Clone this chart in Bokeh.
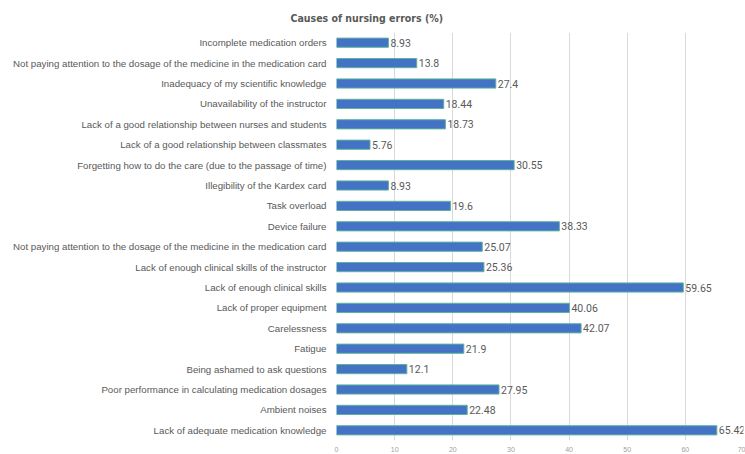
from bokeh.plotting import figure
from bokeh.models import ColumnDataSource, FixedTicker, LabelSet
from bokeh.core.properties import value
from bokeh.embed import file_html
from bokeh.resources import INLINE

# Top-to-bottom order as in the reference
causes = [
    "Incomplete medication orders",
    "Not paying attention to the dosage of the medicine in the medication card",
    "Inadequacy of my scientific knowledge",
    "Unavailability of the instructor",
    "Lack of a good relationship between nurses and students",
    "Lack of a good relationship between classmates",
    "Forgetting how to do the care (due to the passage of time)",
    "Illegibility of the Kardex card",
    "Task overload",
    "Device failure",
    "Not paying attention to the dosage of the medicine in the medication card",
    "Lack of enough clinical skills of the instructor",
    "Lack of enough clinical skills",
    "Lack of proper equipment",
    "Carelessness",
    "Fatigue",
    "Being ashamed to ask questions",
    "Poor performance in calculating medication dosages",
    "Ambient noises",
    "Lack of adequate medication knowledge",
]
percent = [8.93, 13.8, 27.4, 18.44, 18.73, 5.76, 30.55, 8.93, 19.6, 38.33,
           25.07, 25.36, 59.65, 40.06, 42.07, 21.9, 12.1, 27.95, 22.48, 65.42]
value_labels = ["8.93", "13.8", "27.4", "18.44", "18.73", "5.76", "30.55", "8.93",
                "19.6", "38.33", "25.07", "25.36", "59.65", "40.06", "42.07", "21.9",
                "12.1", "27.95", "22.48", "65.42"]
x_ticks = [0, 10, 20, 30, 40, 50, 60, 70]

n = len(causes)
pos = [n - 1 - i for i in range(n)]

src = ColumnDataSource(dict(y=pos, v=percent, t=value_labels))

p = figure(width=745, height=454, output_backend="svg", toolbar_location=None,
           x_range=(0, 70), y_range=(-0.5, n - 0.5),
           title="Causes of nursing errors (%)",
           min_border_left=336, min_border_right=2, min_border_bottom=0)

p.hbar(y="y", right="v", left=0, height=0.45, source=src,
       fill_color="#4472C4", line_color="#5ab4a0", line_width=1)

lbl = LabelSet(x="v", y="y", text="t", source=src, x_offset=2, y_offset=0,
               text_baseline="middle", text_font_size="10.5px",
               text_color="#595959", text_font=value("Roboto"))
p.add_layout(lbl)

p.title.text_font = "DejaVu Sans Condensed"
p.title.text_font_size = "10.5px"
p.title.text_font_style = "bold"
p.title.text_color = "#595959"
p.title.align = "left"
p.title.offset = -46
p.title.standoff = 18

p.yaxis.ticker = FixedTicker(ticks=pos)
p.yaxis.major_label_overrides = {pp: c for pp, c in zip(pos, causes)}
p.yaxis.major_label_text_font = "Liberation Sans"
p.yaxis.major_label_text_font_size = "9.7px"
p.yaxis.major_label_text_color = "#595959"
p.yaxis.axis_line_color = None
p.yaxis.major_tick_line_color = None
p.yaxis.minor_tick_line_color = None
p.yaxis.major_label_standoff = 4

p.xaxis.ticker = FixedTicker(ticks=x_ticks)
p.xaxis.major_label_text_font_size = "7px"
p.xaxis.major_label_text_color = "#a0a0a0"
p.xaxis.axis_line_color = None
p.xaxis.major_tick_line_color = None
p.xaxis.minor_tick_line_color = None
p.xaxis.major_tick_out = 0
p.xaxis.major_tick_in = 0
p.xaxis.major_label_standoff = 6

p.xgrid.ticker = FixedTicker(ticks=x_ticks)
p.xgrid.grid_line_color = "#d9d9d9"
p.ygrid.grid_line_color = None
p.outline_line_color = None

open("out.html", "w").write(file_html(p, INLINE))
